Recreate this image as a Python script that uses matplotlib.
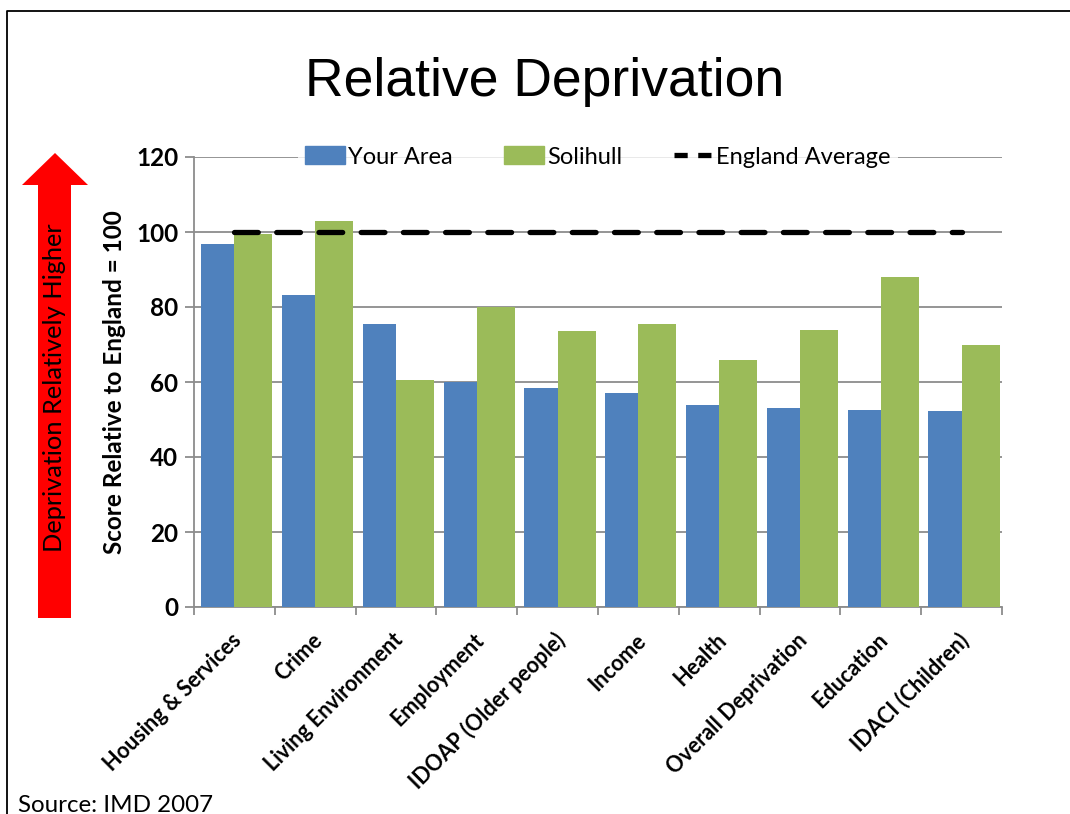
import matplotlib
matplotlib.use("Agg")
import matplotlib.pyplot as plt
import numpy as np
from matplotlib.lines import Line2D
from matplotlib.patches import Patch, Polygon

W, H = 1070, 814

categories = ["Housing & Services", "Crime", "Living Environment", "Employment",
              "IDOAP (Older people)", "Income", "Health", "Overall Deprivation",
              "Education", "IDACI (Children)"]
your_area = [96.8, 83.2, 75.5, 60.0, 58.4, 57.0, 53.9, 53.1, 52.5, 52.3]
solihull = [99.5, 103.0, 60.5, 80.0, 73.5, 75.5, 66.0, 74.0, 88.0, 70.0]
england_avg = [100] * len(categories)
y_ticks = [0, 20, 40, 60, 80, 100, 120]

BLUE = "#4F81BD"
GREEN = "#9BBB59"
GRID = "#8C8C8C"
FONT = "Lato"

plt.rcParams["font.family"] = [FONT, "DejaVu Sans"]


def px(x, y):
    # pixel position (from top-left) -> figure fraction
    return (x / W, 1 - y / H)


fig = plt.figure(figsize=(W / 100, H / 100), dpi=100)
x0, y0 = px(194, 607)
x1, y1 = px(1002, 157)
ax = fig.add_axes([x0, y0, x1 - x0, y1 - y0])

x = np.arange(len(categories))
ax.bar(x - 0.205, your_area, width=0.41, color=BLUE, zorder=3, label="Your Area")
ax.bar(x + 0.235, solihull, width=0.47, color=GREEN, zorder=4, label="Solihull")
ax.plot(x, england_avg, color="black", lw=3.8, dashes=(4.5, 3.5),
        dash_capstyle="round", zorder=5, label="England Average")

ax.set_xlim(-0.5, len(categories) - 0.5)
ax.set_ylim(0, 120)
ax.set_yticks(y_ticks)
ax.set_yticklabels([str(v) for v in y_ticks], fontsize=17.5, fontweight="bold")
ax.yaxis.grid(True, color=GRID, lw=1.3, zorder=0)
ax.set_axisbelow(True)

ax.set_xticks(x)
ax.set_xticklabels([])
ax.set_xticks(np.arange(len(categories) + 1) - 0.5, minor=True)
ax.tick_params(axis="x", which="major", length=0)
ax.tick_params(axis="x", which="minor", length=6, color=GRID, width=1.3)
ax.tick_params(axis="y", length=6.5, color=GRID, width=1.3, pad=5)

for side in ("top", "right"):
    ax.spines[side].set_visible(False)
for side in ("left", "bottom"):
    ax.spines[side].set_color(GRID)
    ax.spines[side].set_linewidth(1.3)

# rotated category labels, ending at the category centre
for xi, name in zip(x, categories):
    ax.annotate(name, xy=(xi, 0), xycoords=("data", "axes fraction"),
                xytext=(4, -30), textcoords="offset pixels",
                rotation=45, rotation_mode="anchor", ha="right", va="center",
                fontsize=15.5, fontweight="bold")

handles = [Patch(color=BLUE), Patch(color=GREEN),
           Line2D([], [], color="black", lw=3.8, dashes=(2.5, 2.0))]
leg = ax.legend(handles, ["Your Area", "Solihull", "England Average"],
                loc="center", bbox_to_anchor=(0.5, 1.0), ncol=3, frameon=True,
                fontsize=17, handlelength=1.7, handleheight=0.8, handletextpad=0.1,
                columnspacing=2.2, borderpad=0.3, fancybox=False)
leg.get_frame().set_facecolor("white")
leg.get_frame().set_edgecolor("none")
leg.set_zorder(10)

fig.text(*px(115, 382), "Score Relative to England = 100", rotation=90,
         ha="center", va="center", fontsize=17.5, fontweight="bold")

# red arrow on the left
arrow = [(38, 618), (38, 185), (22, 185), (55, 153), (88, 185), (71, 185), (71, 618)]
fig.patches.append(Polygon([px(a, b) for a, b in arrow], closed=True,
                           transform=fig.transFigure, facecolor="#FF0000",
                           edgecolor="none"))
fig.text(*px(55, 388), "Deprivation Relatively Higher", rotation=90,
         ha="center", va="center", fontsize=18.3)

fig.text(*px(545, 82), "Relative Deprivation", ha="center", va="center",
         fontsize=38.5, family="Liberation Sans")
fig.text(*px(18, 812), "Source: IMD 2007", ha="left", va="baseline", fontsize=17.4)

# slide border (top and left edges visible)
fig.add_artist(Line2D([px(7, 0)[0], px(7, 0)[0], 1.0], [0.0, px(0, 11)[1], px(0, 11)[1]],
                      transform=fig.transFigure, color="black", lw=1.3))

fig.savefig("out.png", dpi=100)
